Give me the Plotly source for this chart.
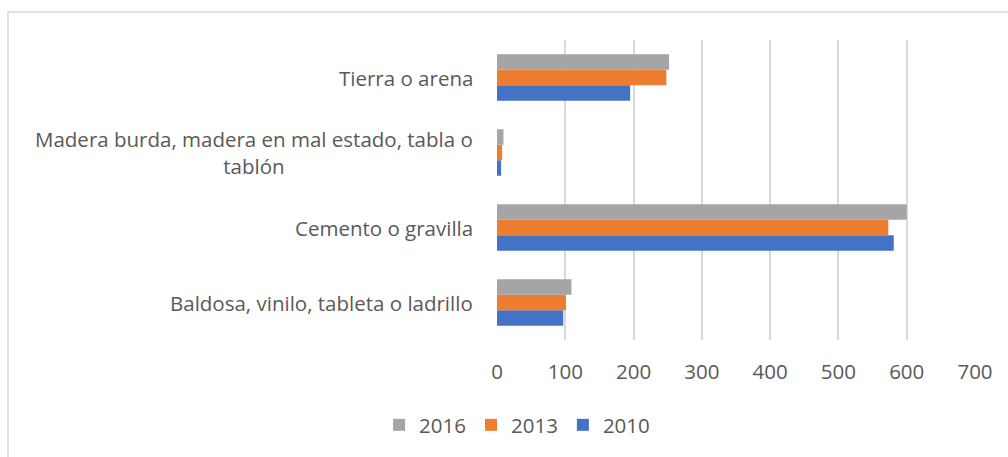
import plotly.graph_objects as go

categories = [
    "Baldosa, vinilo, tableta o ladrillo",
    "Cemento o gravilla",
    "Madera burda, madera en mal estado, tabla o<br>tablón",
    "Tierra o arena",
]
v2010 = [97, 581, 6, 195]
v2013 = [101, 573, 7.5, 248]
v2016 = [109, 600, 9.5, 252]
years = ["2010", "2013", "2016"]
colors = {"2010": "#4472C4", "2013": "#ED7D31", "2016": "#A5A5A5"}
tick_vals = [0, 100, 200, 300, 400, 500, 600, 700]

fig = go.Figure()
for yr, vals in zip(years, [v2010, v2013, v2016]):
    fig.add_trace(go.Bar(
        y=categories, x=vals, name=yr, orientation="h",
        marker=dict(color=colors[yr], line=dict(width=0)),
    ))

font_family = "Open Sans, sans-serif"
txt_color = "#595959"
fs = 20.5

for c in categories:
    fig.add_annotation(
        x=0, xref="paper", y=c, yref="y", text=c, showarrow=False,
        xanchor="right", xshift=-22, align="center",
        font=dict(family=font_family, size=fs, color=txt_color),
    )

fig.add_shape(type="rect", xref="paper", yref="paper",
              x0=(8 - 497) / 478, x1=(1015 - 497) / 478,
              y0=(340 - 470) / 300, y1=(340 - 12) / 300,
              line=dict(color="#d9d9d9", width=1.5), fillcolor="rgba(0,0,0,0)")

fig.update_layout(
    width=1008, height=457,
    margin=dict(l=497, r=33, t=40, b=117),
    paper_bgcolor="white", plot_bgcolor="white",
    barmode="group", bargap=0.38, bargroupgap=0,
    font=dict(family=font_family, size=fs, color=txt_color),
    legend=dict(
        orientation="h", traceorder="reversed",
        xref="container", yref="container",
        x=0.513, xanchor="center", y=0.07, yanchor="middle",
        font=dict(family=font_family, size=fs, color=txt_color),
        itemwidth=30,
    ),
    showlegend=True,
)
fig.update_xaxes(
    range=[0, 700], tickvals=tick_vals, showgrid=True,
    gridcolor="#d9d9d9", gridwidth=1.5, zeroline=False, showline=False,
    ticks="", tickfont=dict(size=fs, color=txt_color, family=font_family),
    ticklabelstandoff=17,
)
fig.update_yaxes(showticklabels=False, showgrid=False, zeroline=False, showline=False)

fig.write_html("out.html", config={"displayModeBar": False},
               post_script="document.body.style.margin='0';")
